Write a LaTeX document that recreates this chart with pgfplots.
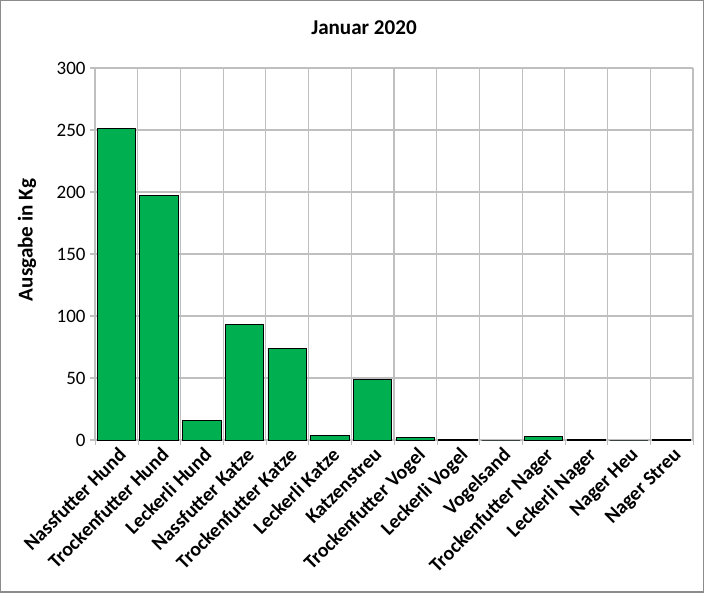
\documentclass[border=0pt]{standalone}
\usepackage{pgfplots}
\pgfplotsset{compat=1.18}
\usepackage{fontspec}
\setmainfont{Carlito}
\definecolor{bargreen}{HTML}{00B050}
\definecolor{gridgray}{HTML}{BFBFBF}
\definecolor{framegray}{HTML}{8C8C8C}

\begin{document}
\begin{tikzpicture}
% frame of the whole chart, 704 x 592 px at 0.25 mm per px
\useasboundingbox (0,0) rectangle (176mm,148mm);
\draw[framegray, line width=0.5mm] (0.125mm,0.125mm) rectangle (175.875mm,147.875mm);

\begin{axis}[
    at={(23.75mm,38mm)}, anchor=south west,
    scale only axis,
    width=149.5mm, height=93mm,
    ybar, bar width=0.9,
    xmin=-0.5, xmax=13.5,
    ymin=0, ymax=300,
    xtick={0,...,13},
    xticklabels={
        Nassfutter Hund, Trockenfutter Hund, Leckerli Hund,
        Nassfutter Katze, Trockenfutter Katze, Leckerli Katze,
        Katzenstreu, Trockenfutter Vogel, Leckerli Vogel, Vogelsand,
        Trockenfutter Nager, Leckerli Nager, Nager Heu, Nager Streu},
    x tick label style={rotate=45, anchor=north east, font=\bfseries\fontsize{14.2}{16}\selectfont, inner sep=1pt, xshift=1pt},
    major x tick style={draw=none},
    minor xtick={-0.5,0.5,...,13.5},
    minor x tick style={gridgray},
    xminorgrids,
    minor grid style={gridgray, line width=0.8pt},
    ytick={0,50,...,300},
    ymajorgrids,
    major grid style={gridgray, line width=0.8pt},
    y tick label style={font=\fontsize{13.5}{15}\selectfont, inner sep=1pt, xshift=-2pt},
    /pgf/number format/assume math mode=true,
    tick align=outside,
    major tick length=1.25mm,
    minor tick length=1.25mm,
    y tick style={gridgray, line width=0.8pt},
    axis line style={gridgray, line width=0.8pt},
    axis x line*=bottom,
    axis y line*=left,
    tick pos=left,
]
\addplot[fill=bargreen, draw=black, line width=0.6pt] coordinates {
    (0,251) (1,197) (2,16) (3,93) (4,74) (5,4) (6,48.5)
    (7,2) (8,0.5) (9,0) (10,3) (11,0.5) (12,0) (13,0.5)
};
\end{axis}

\node[font=\bfseries\fontsize{15}{17}\selectfont] at (91mm,141mm) {Januar 2020};
\node[font=\bfseries\fontsize{15}{17}\selectfont, rotate=90] at (6.75mm,88mm) {Ausgabe in Kg};
\end{tikzpicture}
\end{document}
